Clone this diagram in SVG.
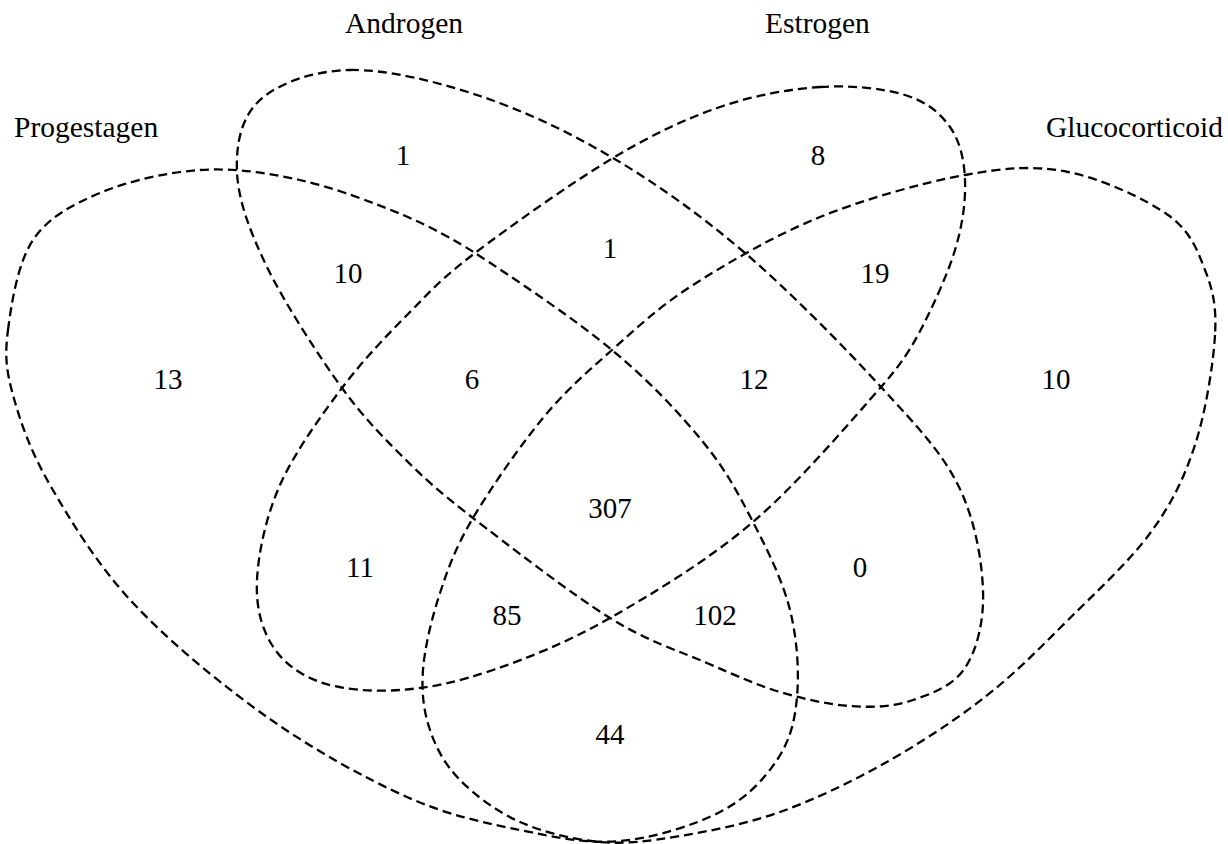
<svg xmlns="http://www.w3.org/2000/svg" width="1228" height="844" viewBox="0 0 1228 844">
<style>
.set{fill:none;stroke:#000;stroke-width:2.3;stroke-dasharray:9 5}
.lbl{font-family:"Liberation Serif","Times New Roman",serif;font-size:29.5px;fill:#000}
.num{font-family:"Liberation Serif","Times New Roman",serif;font-size:29px;fill:#000;text-anchor:middle}
</style>
<rect width="1228" height="844" fill="#fff"/>
<g id="progestagen">
<path class="set" d="M8,330 C11.3,304.2 17.7,262.8 33,240 C48.3,217.2 72.2,204.7 100,193 C127.8,181.3 166.7,172.2 200,170 C233.3,167.8 266.2,172.5 300,180 C333.8,187.5 373.8,202.8 403,215 C432.2,227.2 457.6,241.8 475,253 C509.8,275.5 574,318.5 612,350 C650,381.5 679.5,413.3 703,442 C726.5,470.7 738.5,494 753,522 C767.5,550 782.7,580.8 790,610 C797.3,639.2 799.2,672 797,697 C794.8,722 789.8,740.8 777,760 C764.2,779.2 746.2,798.5 720,812 C693.8,825.5 653.3,838 620,841 C586.7,844 555.5,837.3 520,830 C484.5,822.7 449.2,815.8 407,797 C364.8,778.2 312.7,749.3 267,717 C221.3,684.7 169.2,641.7 133,603 C96.8,564.3 70,519.7 50,485 C30,450.3 20,420.8 13,395 C6,369.2 4.7,355.8 8,330 Z"/>
<text class="lbl" x="14" y="137">Progestagen</text>
</g>
<g id="androgen">
<path class="set" d="M350,70 C386.7,69.3 436.2,81.3 480,96 C523.8,110.7 568.8,131.8 613,158 C657.2,184.2 700.3,214.8 745,253 C789.7,291.2 845.5,348.3 881,387 C916.5,425.7 941,451.2 958,485 C975,518.8 981.8,559.5 983,590 C984.2,620.5 977.2,649.5 965,668 C952.8,686.5 929.2,694.7 910,701 C890.8,707.3 871.7,707.5 850,706 C828.3,704.5 803.8,699.2 780,692 C756.2,684.8 735.3,675.3 707,663 C678.7,650.7 649,642.2 610,618 C571,593.8 506.3,543.7 473,518 C456.3,505.2 431.8,485.7 410,464 C388.2,442.3 365.8,420.8 342,388 C318.2,355.2 284.5,303 267,267 C249.5,231 238.2,199.8 237,172 C235.8,144.2 241.2,117 260,100 C278.8,83 313.3,70.7 350,70 Z"/>
<text class="lbl" x="345" y="33">Androgen</text>
</g>
<g id="estrogen">
<path class="set" d="M820,87 C850.8,85 883.3,88.3 905,95 C926.7,101.7 940,112.8 950,127 C960,141.2 964.2,159.5 965,180 C965.8,200.5 962.8,224.2 955,250 C947.2,275.8 930.3,312.2 918,335 C905.7,357.8 895,371 881,387 C853.5,418.2 798.2,483.5 753,522 C707.8,560.5 653.3,593.3 610,618 C566.7,642.7 528,658 493,670 C458,682 428.8,688 400,690 C371.2,692 341.3,689.5 320,682 C298.7,674.5 282.5,662 272,645 C261.5,628 255.7,606.7 257,580 C258.3,553.3 265.8,517 280,485 C294.2,453 320.3,416.8 342,388 C363.7,359.2 387.8,334.5 410,312 C432.2,289.5 441.2,278.7 475,253 C508.8,227.3 572.2,182.3 613,158 C653.8,133.7 685.5,118.8 720,107 C754.5,95.2 789.2,89 820,87 Z"/>
<text class="lbl" x="765" y="33">Estrogen</text>
</g>
<g id="glucocorticoid">
<path class="set" d="M1215,335 C1213.3,364.2 1205.7,412.2 1195,445 C1184.3,477.8 1172.2,502.8 1151,532 C1129.8,561.2 1095.7,592.5 1068,620 C1040.3,647.5 1015.5,673.2 985,697 C954.5,720.8 919.2,743.8 885,763 C850.8,782.2 814.2,799.8 780,812 C745.8,824.2 710,831 680,836 C650,841 626.7,844.3 600,842 C573.3,839.7 543.3,832.3 520,822 C496.7,811.7 475,795.3 460,780 C445,764.7 436.2,748.3 430,730 C423.8,711.7 421.3,692.8 423,670 C424.7,647.2 431.7,618.3 440,593 C448.3,567.7 455.8,547.2 473,518 C490.2,488.8 519.8,446 543,418 C566.2,390 587,372.2 612,350 C637,327.8 658.3,307.2 693,285 C727.7,262.8 774.7,235.3 820,217 C865.3,198.7 923.7,182.5 965,175 C1006.3,167.5 1034.2,165.3 1068,172 C1101.8,178.7 1145.2,198.7 1168,215 C1190.8,231.3 1197.2,250 1205,270 C1212.8,290 1216.7,305.8 1215,335 Z"/>
<text class="lbl" x="1046" y="137">Glucocorticoid</text>
</g>
<g id="counts">
<text class="num" x="403" y="165">1</text>
<text class="num" x="818" y="165">8</text>
<text class="num" x="348" y="283">10</text>
<text class="num" x="610" y="258">1</text>
<text class="num" x="875" y="283">19</text>
<text class="num" x="168" y="389">13</text>
<text class="num" x="472" y="389">6</text>
<text class="num" x="754" y="389">12</text>
<text class="num" x="1056" y="389">10</text>
<text class="num" x="610" y="518">307</text>
<text class="num" x="360" y="577">11</text>
<text class="num" x="860" y="577">0</text>
<text class="num" x="507" y="625">85</text>
<text class="num" x="715" y="625">102</text>
<text class="num" x="610" y="744">44</text>
</g>
</svg>
